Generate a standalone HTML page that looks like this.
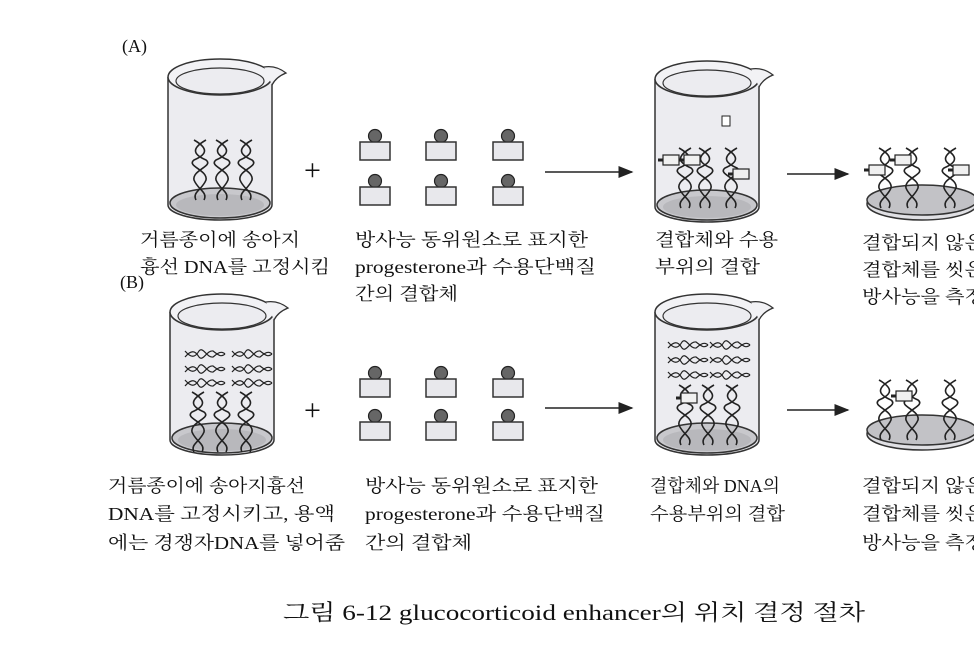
<!DOCTYPE html>
<html><head><meta charset="utf-8"><style>
body{margin:0;background:#fff;}
svg{display:block}
text{font-family:"Liberation Serif","Noto Serif CJK SC","Noto Sans CJK KR",serif;fill:#111}
</style></head><body>
<svg width="974" height="648" viewBox="0 0 974 648" xmlns="http://www.w3.org/2000/svg" font-size="18">
<defs>
<g id="beaker">
  <path d="M0,22 L0,150 A52,15 0 0 0 104,150 L104,22" fill="#ececf0" stroke="#333" stroke-width="1.5"/>
  <ellipse cx="52" cy="22" rx="52" ry="18" fill="#f2f2f5" stroke="#333" stroke-width="1.5"/>
  <ellipse cx="52" cy="26" rx="44" ry="13" fill="#ececf0" stroke="#333" stroke-width="1.2"/>
  <path d="M96,12 Q108,10 118,18 Q108,22 104,30" fill="#f2f2f5" stroke="#333" stroke-width="1.3"/>
  <ellipse cx="52" cy="148" rx="50" ry="15" fill="#c8c8cc" stroke="#333" stroke-width="1.5"/>
  <ellipse cx="52" cy="150" rx="44" ry="11" fill="#b8b8bc" stroke="none"/>
</g>
<g id="dish">
  <ellipse cx="0" cy="4" rx="55" ry="16" fill="#e0e0e4" stroke="#333" stroke-width="1.5"/>
  <ellipse cx="0" cy="0" rx="55" ry="15" fill="#c2c2c6" stroke="#333" stroke-width="1.5"/>
</g>
<g id="helix" fill="none" stroke="#222" stroke-width="1.6">
  <path d="M-6,0 C8,8 8,14 -6,20 C-14,26 8,30 6,40 C2,50 -8,52 -4,60"/>
  <path d="M6,0 C-8,8 -8,14 6,20 C14,26 -8,30 -6,40 C-2,50 8,52 4,60"/>
</g>
<g id="hhelix" fill="none" stroke="#222" stroke-width="1.2">
  <path d="M0,-3 C6,4 10,4 14,-3 C18,-8 22,4 28,3 C32,0 36,-4 40,0"/>
  <path d="M0,3 C6,-4 10,-4 14,3 C18,8 22,-4 28,-3 C32,0 36,4 40,0"/>
</g>
<g id="prot">
  <circle cx="0" cy="-12" r="6.5" fill="#666" stroke="#222" stroke-width="1.2"/>
  <rect x="-15" y="-6" width="30" height="18" fill="#e8e8ec" stroke="#333" stroke-width="1.5"/>
</g>
<g id="bound">
  <rect x="-9" y="-5" width="16" height="10" fill="#f0f0f0" stroke="#222" stroke-width="1.2"/>
  <path d="M-9,0 L-14,0" stroke="#222" stroke-width="3"/>
</g>
<marker id="ar" markerWidth="10" markerHeight="8" refX="9" refY="4" orient="auto"><path d="M0,0 L10,4 L0,8 Z" fill="#222"/></marker>
</defs>

<!-- Row A -->
<text x="122" y="52">(A)</text>
<use href="#beaker" x="168" y="55"/>
<use href="#helix" x="200" y="140"/><use href="#helix" x="222" y="140"/><use href="#helix" x="246" y="140"/>
<text x="304" y="180" style="font-size:30px">+</text>
<use href="#prot" x="375" y="148"/><use href="#prot" x="441" y="148"/><use href="#prot" x="508" y="148"/>
<use href="#prot" x="375" y="193"/><use href="#prot" x="441" y="193"/><use href="#prot" x="508" y="193"/>
<line x1="545" y1="172" x2="632" y2="172" stroke="#222" stroke-width="1.5" marker-end="url(#ar)"/>
<use href="#beaker" x="655" y="57"/>
<use href="#helix" x="685" y="148"/><use href="#helix" x="705" y="148"/><use href="#helix" x="731" y="148"/>
<use href="#bound" x="672" y="160"/><use href="#bound" x="693" y="160"/><use href="#bound" x="742" y="174"/>
<rect x="722" y="116" width="8" height="10" fill="#fff" stroke="#222"/>
<line x1="787" y1="174" x2="848" y2="174" stroke="#222" stroke-width="1.5" marker-end="url(#ar)"/>
<use href="#dish" x="922" y="200"/>
<use href="#helix" x="885" y="148"/><use href="#helix" x="912" y="148"/><use href="#helix" x="950" y="148"/>
<use href="#bound" x="878" y="170"/><use href="#bound" x="904" y="160"/><use href="#bound" x="962" y="170"/>

<text x="140" y="246" textLength="160" lengthAdjust="spacingAndGlyphs">거름종이에 송아지</text>
<text x="140" y="273" textLength="190" lengthAdjust="spacingAndGlyphs">흉선 DNA를 고정시킴</text>
<text x="355" y="246" textLength="233" lengthAdjust="spacingAndGlyphs">방사능 동위원소로 표지한</text>
<text x="355" y="273" textLength="241" lengthAdjust="spacingAndGlyphs">progesterone과 수용단백질</text>
<text x="355" y="300" textLength="103" lengthAdjust="spacingAndGlyphs">간의 결합체</text>
<text x="655" y="246" textLength="123" lengthAdjust="spacingAndGlyphs">결합체와 수용</text>
<text x="655" y="273" textLength="105" lengthAdjust="spacingAndGlyphs">부위의 결합</text>
<text x="862" y="249" textLength="122" lengthAdjust="spacingAndGlyphs">결합되지 않은</text>
<text x="862" y="276" textLength="122" lengthAdjust="spacingAndGlyphs">결합체를 씻은</text>
<text x="862" y="303" textLength="122" lengthAdjust="spacingAndGlyphs">방사능을 측정</text>

<!-- Row B -->
<text x="120" y="288">(B)</text>
<use href="#beaker" x="170" y="290"/>
<use href="#hhelix" x="185" y="354"/><use href="#hhelix" x="185" y="369"/><use href="#hhelix" x="185" y="383"/>
<use href="#hhelix" x="232" y="354"/><use href="#hhelix" x="232" y="369"/><use href="#hhelix" x="232" y="383"/>
<use href="#helix" x="198" y="392"/><use href="#helix" x="222" y="392"/><use href="#helix" x="246" y="392"/>
<text x="304" y="420" style="font-size:30px">+</text>
<use href="#prot" x="375" y="385"/><use href="#prot" x="441" y="385"/><use href="#prot" x="508" y="385"/>
<use href="#prot" x="375" y="428"/><use href="#prot" x="441" y="428"/><use href="#prot" x="508" y="428"/>
<line x1="545" y1="408" x2="632" y2="408" stroke="#222" stroke-width="1.5" marker-end="url(#ar)"/>
<use href="#beaker" x="655" y="290"/>
<use href="#hhelix" x="668" y="345"/><use href="#hhelix" x="668" y="360"/><use href="#hhelix" x="668" y="375"/>
<use href="#hhelix" x="710" y="345"/><use href="#hhelix" x="710" y="360"/><use href="#hhelix" x="710" y="375"/>
<use href="#helix" x="685" y="385"/><use href="#helix" x="708" y="385"/><use href="#helix" x="732" y="385"/>
<use href="#bound" x="690" y="398"/>
<line x1="787" y1="410" x2="848" y2="410" stroke="#222" stroke-width="1.5" marker-end="url(#ar)"/>
<use href="#dish" x="922" y="430"/>
<use href="#helix" x="885" y="380"/><use href="#helix" x="912" y="380"/><use href="#helix" x="950" y="380"/>
<use href="#bound" x="905" y="396"/>

<text x="108" y="492" textLength="197" lengthAdjust="spacingAndGlyphs">거름종이에 송아지흉선</text>
<text x="108" y="520" textLength="227" lengthAdjust="spacingAndGlyphs">DNA를 고정시키고, 용액</text>
<text x="108" y="549" textLength="237" lengthAdjust="spacingAndGlyphs">에는 경쟁자DNA를 넣어줌</text>
<text x="365" y="492" textLength="233" lengthAdjust="spacingAndGlyphs">방사능 동위원소로 표지한</text>
<text x="365" y="520" textLength="240" lengthAdjust="spacingAndGlyphs">progesterone과 수용단백질</text>
<text x="365" y="549" textLength="107" lengthAdjust="spacingAndGlyphs">간의 결합체</text>
<text x="650" y="492" textLength="130" lengthAdjust="spacingAndGlyphs">결합체와 DNA의</text>
<text x="650" y="520" textLength="135" lengthAdjust="spacingAndGlyphs">수용부위의 결합</text>
<text x="862" y="492" textLength="122" lengthAdjust="spacingAndGlyphs">결합되지 않은</text>
<text x="862" y="520" textLength="122" lengthAdjust="spacingAndGlyphs">결합체를 씻은</text>
<text x="862" y="549" textLength="122" lengthAdjust="spacingAndGlyphs">방사능을 측정</text>

<text x="283" y="620" style="font-size:22px" textLength="582" lengthAdjust="spacingAndGlyphs">그림 6-12  glucocorticoid enhancer의 위치 결정 절차</text>
</svg>
</body></html>
